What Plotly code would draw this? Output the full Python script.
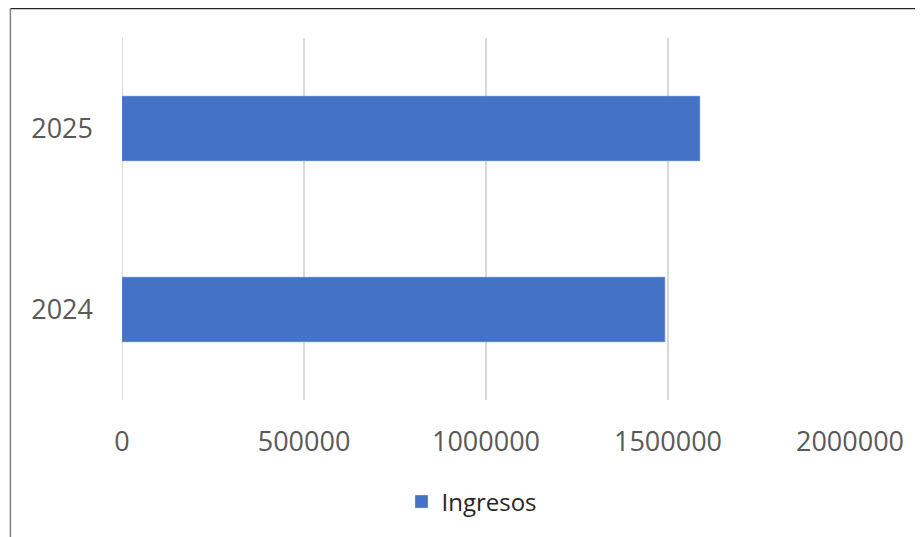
import plotly.graph_objects as go

categories = ["2024", "2025"]
ingresos = [1491000, 1587000]
x_ticks = [0, 500000, 1000000, 1500000, 2000000]
x_tick_labels = ["0", "500000", "1000000", "1500000", "2000000"]

OFF = 8  # page body margin
W, H = 923 - OFF, 537 - OFF
L, R, T, B = 121.7 - OFF, 72.7, 38 - OFF, 137
pw, ph = W - L - R, H - T - B

fig = go.Figure()
fig.add_trace(go.Bar(
    y=categories, x=ingresos, orientation="h", name="Ingresos",
    marker=dict(color="#4472C4", line=dict(color="#5A85D0", width=1)),
    width=0.355, showlegend=True,
))

def px_x(p):
    return (p - OFF - L) / pw

def px_y(p):
    return (H - B - (p - OFF)) / ph

fig.update_layout(
    width=W, height=H,
    margin=dict(l=L, r=R, t=T, b=B, autoexpand=False),
    paper_bgcolor="white", plot_bgcolor="white",
    font=dict(family="Open Sans", color="#595959"),
    xaxis=dict(range=[0, 2000000], tickvals=x_ticks, ticktext=x_tick_labels,
               showgrid=True, gridcolor="#D9D9D9", gridwidth=2,
               zeroline=False, showline=False, tickfont=dict(size=27, color="#595959"),
               ticklabelstandoff=23, fixedrange=True),
    yaxis=dict(type="category", categoryorder="array", categoryarray=categories,
               showgrid=False, zeroline=False, showline=False,
               tickfont=dict(size=27, color="#595959"), ticklabelstandoff=28),
    bargap=0.645,
    legend=dict(orientation="h", xanchor="center", yanchor="middle",
                x=px_x(472), y=px_y(502), font=dict(size=24, color="#262626"),
                itemwidth=30, bgcolor="rgba(0,0,0,0)"),
    shapes=[
        dict(type="line", xref="x", yref="paper", x0=x_ticks[0], x1=x_ticks[0],
             y0=0, y1=1, layer="below", line=dict(color="#D9D9D9", width=2)),
        dict(type="line", xref="paper", yref="paper", x0=px_x(10), x1=px_x(940),
             y0=px_y(8.5), y1=px_y(8.5), line=dict(color="#262626", width=1.5)),
        dict(type="line", xref="paper", yref="paper", x0=px_x(10), x1=px_x(10),
             y0=px_y(8.5), y1=px_y(560), line=dict(color="#7F7F7F", width=1.5)),
    ],
)

fig.write_html("out.html")
